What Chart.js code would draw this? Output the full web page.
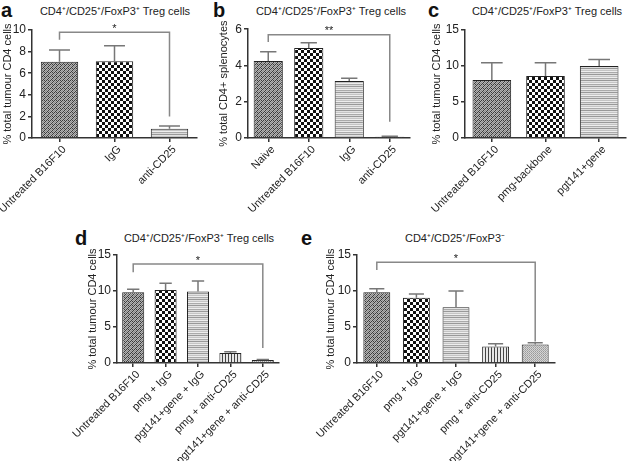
<!DOCTYPE html>
<html>
<head>
<meta charset="utf-8">
<script src="https://cdn.jsdelivr.net/npm/chart.js@4.4.0/dist/chart.umd.min.js"></script>
<style>
  body { margin: 0; background: #fff; width: 627px; height: 461px; position: relative; overflow: hidden;
         font-family: "Liberation Sans", Arial, sans-serif; }
  canvas { position: absolute; }
  .ttl { position: absolute; font-size: 11px; color: #222; white-space: nowrap; transform: translate(-50%, -50%); }
  .lbl { position: absolute; font-size: 20px; font-weight: bold; color: #111; line-height: 1; }
</style>
</head>
<body>
<div class="lbl" style="left:1px;top:0px">a</div>
<div class="lbl" style="left:213px;top:0px">b</div>
<div class="lbl" style="left:428px;top:0px">c</div>
<div class="lbl" style="left:75px;top:228px">d</div>
<div class="lbl" style="left:301px;top:228px">e</div>
<div class="ttl" style="left:115px;top:10px">CD4⁺/CD25⁺/FoxP3⁺ Treg cells</div>
<div class="ttl" style="left:331px;top:10px">CD4⁺/CD25⁺/FoxP3⁺ Treg cells</div>
<div class="ttl" style="left:547px;top:10px">CD4⁺/CD25⁺/FoxP3⁺ Treg cells</div>
<div class="ttl" style="left:199px;top:237px">CD4⁺/CD25⁺/FoxP3⁺ Treg cells</div>
<div class="ttl" style="left:455px;top:237px">CD4⁺/CD25⁺/FoxP3⁻</div>
<canvas id="chartA" width="205" height="210" style="left:0px;top:20px"></canvas>
<canvas id="chartB" width="210" height="210" style="left:205px;top:20px"></canvas>
<canvas id="chartC" width="212" height="210" style="left:415px;top:20px"></canvas>
<canvas id="chartD" width="245" height="216" style="left:60px;top:245px"></canvas>
<canvas id="chartE" width="322" height="216" style="left:305px;top:245px"></canvas>
<script>
// panel a
const aLabels = ['Untreated B16F10', 'IgG', 'anti-CD25'];
const aValues = [7.05, 7.1, 0.85];
const aErrors = [8.15, 8.55, 1.1];
const aBracket = [0, 2, 9.8, 9.1, 2.0, '*'];

// panel b
const bLabels = ['Naive', 'Untreated B16F10', 'IgG', 'anti-CD25'];
const bValues = [4.25, 4.97, 3.15, 0.07];
const bErrors = [4.75, 5.25, 3.29, 0.1];
const bBracket = [0, 3, 5.7, 5.3, 0.9, '**'];

// panel c
const cLabels = ['Untreated B16F10', 'pmg-backbone', 'pgt141+gene'];
const cValues = [8.06, 8.6, 10.0];
const cErrors = [10.46, 10.46, 10.9];

// panel d
const dLabels = ['Untreated B16F10', 'pmg + IgG', 'pgt141+gene + IgG', 'pmg + anti-CD25', 'pgt141+gene + anti-CD25'];
const dValues = [9.83, 10.15, 9.92, 1.39, 0.41];
const dErrors = [10.25, 11.08, 11.4, 1.55, 0.5];
const dBracket = [0, 4, 13.75, 12.6, 2.1, '*'];

// panel e
const eLabels = ['Untreated B16F10', 'pmg + IgG', 'pgt141+gene + IgG', 'pmg + anti-CD25', 'pgt141+gene + anti-CD25'];
const eValues = [9.83, 9.05, 7.75, 2.3, 2.58];
const eErrors = [10.3, 9.6, 10.0, 2.67, 2.8];
const eBracket = [0, 4, 13.98, 12.9, 3.0, '*'];

Chart.defaults.font.family = '"Liberation Sans", Arial, sans-serif';
Chart.defaults.color = '#222';

// small tiled fills, like the hatch patterns of the original figure
function makePattern(w, h, rows) {
    const tile = document.createElement('canvas');
    tile.width = w;
    tile.height = h;
    const t = tile.getContext('2d');
    for (let y = 0; y < h; y++) {
        for (let x = 0; x < w; x++) {
            t.fillStyle = rows[y][x];
            t.fillRect(x, y, 1, 1);
        }
    }
    return document.createElement('canvas').getContext('2d').createPattern(tile, 'repeat');
}

const D = '#3c3c3c', L = '#b4b4b4', K = '#111', W = '#fff';
const fine = makePattern(4, 4, [
    [D, L, D, L],
    [L, D, L, '#888'],
    [D, L, '#888', L],
    [L, '#888', L, D]
]);
const coarse = makePattern(6, 6, [
    [K, K, K, W, W, W], [K, K, K, W, W, W], [K, K, K, W, W, W],
    [W, W, W, K, K, K], [W, W, W, K, K, K], [W, W, W, K, K, K]
]);
const hstripe = makePattern(1, 6, [['#999'], ['#e2e2e2'], ['#c4c4c4'], ['#eee'], ['#aaa'], ['#dcdcdc']]);
const vstripe = makePattern(3, 1, [['#444', '#e8e8e8', '#e8e8e8']]);
const dots = makePattern(2, 2, [['#999', '#d8d8d8'], ['#d0d0d0', '#aaa']]);

// error bars (upper only) and significance bracket
const extras = {
    id: 'extras',
    afterDatasetsDraw(chart, args, opts) {
        const ctx = chart.ctx;
        const xs = chart.scales.x, ys = chart.scales.y;
        const meta = chart.getDatasetMeta(0);
        ctx.save();
        ctx.strokeStyle = '#777';
        ctx.lineWidth = 1.5;
        opts.errors.forEach((e, i) => {
            const bar = meta.data[i];
            const ey = ys.getPixelForValue(e);
            const half = bar.width * 0.28;
            ctx.beginPath();
            ctx.moveTo(bar.x, bar.y);
            ctx.lineTo(bar.x, ey);
            ctx.moveTo(bar.x - half, ey);
            ctx.lineTo(bar.x + half, ey);
            ctx.stroke();
        });
        if (opts.bracket) {
            const [from, to, top, leftEnd, rightEnd, stars] = opts.bracket;
            const x1 = xs.getPixelForValue(from), x2 = xs.getPixelForValue(to);
            const yTop = ys.getPixelForValue(top);
            ctx.strokeStyle = '#888';
            ctx.beginPath();
            ctx.moveTo(x1, ys.getPixelForValue(leftEnd));
            ctx.lineTo(x1, yTop);
            ctx.lineTo(x2, yTop);
            ctx.lineTo(x2, ys.getPixelForValue(rightEnd));
            ctx.stroke();
            ctx.fillStyle = '#222';
            ctx.font = '11px "Liberation Sans", Arial, sans-serif';
            ctx.textAlign = 'center';
            ctx.textBaseline = 'bottom';
            ctx.fillText(stars, (x1 + x2) / 2, yTop + 2);
        }
        ctx.restore();
    }
};

// box: canvas origin/size and wanted plot area in page pixels
function makePanel(id, box, labels, values, errors, fills, yMax, yStep, yTitle, bracket, barPct) {
    new Chart(document.getElementById(id), {
        type: 'bar',
        data: {
            labels: labels,
            datasets: [{
                data: values,
                backgroundColor: fills,
                borderColor: '#222',
                borderWidth: 1,
                barPercentage: barPct,
                categoryPercentage: 1
            }]
        },
        options: {
            responsive: false,
            animation: false,
            layout: {
                padding: {
                    left: 0,
                    top: box.top - box.ct,
                    right: box.cl + box.cw - box.right,
                    bottom: 0
                }
            },
            plugins: {
                legend: { display: false },
                tooltip: { enabled: false },
                extras: { errors: errors, bracket: bracket }
            },
            scales: {
                x: {
                    offset: true,
                    grid: { offset: false, drawOnChartArea: false, tickLength: 4, color: '#333', lineWidth: 1.5 },
                    border: { color: '#333', width: 1.5 },
                    ticks: { minRotation: 45, maxRotation: 45, autoSkip: false, padding: 1, labelOffset: 5, font: { size: 11 } },
                    afterFit(scale) {
                        scale.height = box.ct + box.ch - box.bottom;
                        scale.paddingLeft = 0;
                        scale.paddingRight = 0;
                    }
                },
                y: {
                    min: 0,
                    max: yMax,
                    grid: { drawOnChartArea: false, tickLength: 4, color: '#333', lineWidth: 1.5 },
                    border: { color: '#333', width: 1.5 },
                    ticks: { stepSize: yStep, padding: 2, font: { size: 12 } },
                    title: {
                        display: true,
                        text: yTitle,
                        font: { size: 11 },
                        padding: { top: box.titleX - box.cl - 6.6, bottom: 0 }
                    },
                    afterFit(scale) {
                        scale.width = box.left - box.cl;
                    }
                }
            }
        },
        plugins: [extras]
    });
}

makePanel('chartA', { cl: 0, ct: 20, cw: 205, ch: 210, left: 32, top: 30, right: 197, bottom: 138, titleX: 8 },
    aLabels, aValues, aErrors, [fine, coarse, hstripe], 10, 2, '% total tumour CD4 cells', aBracket, 0.68);
makePanel('chartB', { cl: 205, ct: 20, cw: 210, ch: 210, left: 248, top: 29, right: 410, bottom: 138, titleX: 224 },
    bLabels, bValues, bErrors, [fine, coarse, hstripe, fine], 6, 2, '% total CD4+ splenocytes', bBracket, 0.72);
makePanel('chartC', { cl: 415, ct: 20, cw: 212, ch: 210, left: 465, top: 30, right: 626, bottom: 138, titleX: 437 },
    cLabels, cValues, cErrors, [fine, coarse, hstripe], 15, 5, '% total tumour CD4 cells', null, 0.72);
makePanel('chartD', { cl: 60, ct: 245, cw: 245, ch: 216, left: 117, top: 255, right: 279, bottom: 363, titleX: 93 },
    dLabels, dValues, dErrors, [fine, coarse, hstripe, vstripe, dots], 15, 5, '% total tumour CD4 cells', dBracket, 0.68);
makePanel('chartE', { cl: 305, ct: 245, cw: 322, ch: 216, left: 357, top: 255, right: 555, bottom: 363, titleX: 331 },
    eLabels, eValues, eErrors, [fine, coarse, hstripe, vstripe, dots], 15, 5, '% total tumour CD4 cells', eBracket, 0.68);
</script>
</body>
</html>
